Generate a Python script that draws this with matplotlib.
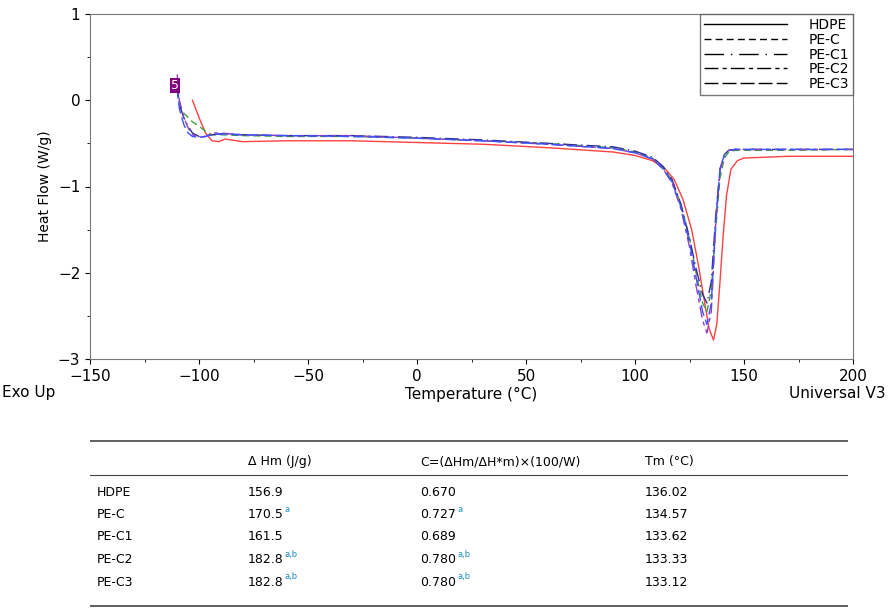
import matplotlib
matplotlib.use('Agg')
import matplotlib.pyplot as plt

# DSC curves (temperature in C, heat flow in W/g)
t_hdpe = [-103, -100, -97, -94, -91, -88, -80, -60, -30, 0, 30, 60, 90, 100, 108, 114, 118, 122, 126, 129, 132, 134, 136, 137.5, 139, 140.5, 142, 144, 147, 150, 170, 200]
hf_hdpe = [0.0, -0.2, -0.38, -0.47, -0.48, -0.45, -0.48, -0.47, -0.47, -0.49, -0.51, -0.55, -0.6, -0.64, -0.7, -0.8, -0.92, -1.15, -1.5, -1.9, -2.35, -2.65, -2.78, -2.6, -2.1, -1.55, -1.1, -0.8, -0.7, -0.67, -0.65, -0.65]

t_ref = [-110, -109, -107, -105, -103, -100, -97, -94, -90, -80, -60, -30, 0, 30, 60, 90, 100, 108, 113, 117, 121, 125, 128, 131, 133, 135, 137, 139, 141, 143, 146, 150, 170, 200]
hf_pec = [0.1, -0.05, -0.15, -0.2, -0.25, -0.3, -0.36, -0.4, -0.4, -0.41, -0.42, -0.42, -0.44, -0.47, -0.5, -0.55, -0.6, -0.67, -0.78, -0.93, -1.2, -1.6, -2.0, -2.35, -2.45, -2.2, -1.5, -0.9, -0.67, -0.6, -0.58, -0.58, -0.58, -0.57]
hf_pec1 = [0.2, -0.05, -0.2, -0.3, -0.38, -0.42, -0.42, -0.4, -0.39, -0.4, -0.41, -0.41, -0.43, -0.46, -0.5, -0.54, -0.59, -0.66, -0.77, -0.92, -1.2, -1.6, -1.95, -2.25, -2.35, -2.1, -1.35, -0.8, -0.63, -0.58, -0.57, -0.57, -0.57, -0.57]
hf_pec2 = [0.3, 0.0, -0.2, -0.32, -0.4, -0.43, -0.42, -0.38, -0.38, -0.4, -0.41, -0.41, -0.44, -0.47, -0.51, -0.56, -0.61, -0.68, -0.8, -0.96, -1.25, -1.7, -2.15, -2.55, -2.7, -2.45, -1.45, -0.8, -0.63, -0.58, -0.57, -0.57, -0.57, -0.57]
hf_pec3 = [0.15, -0.1, -0.28, -0.38, -0.42, -0.43, -0.42, -0.4, -0.39, -0.4, -0.41, -0.42, -0.44, -0.47, -0.51, -0.56, -0.61, -0.68, -0.8, -0.95, -1.23, -1.65, -2.05, -2.45, -2.6, -2.35, -1.4, -0.8, -0.63, -0.58, -0.57, -0.57, -0.57, -0.57]

samples = ['HDPE', 'PE-C', 'PE-C1', 'PE-C2', 'PE-C3']
dhm = ['156.9', '170.5', '161.5', '182.8', '182.8']
cryst = ['0.670', '0.727', '0.689', '0.780', '0.780']
tm = ['136.02', '134.57', '133.62', '133.33', '133.12']
marks = ['', 'a', '', 'a,b', 'a,b']

fig = plt.figure(figsize=(8.88, 6.11), dpi=100)
ax = fig.add_axes([90/888, 1-359/611, 763/888, 345/611])

ax.plot(t_hdpe, hf_hdpe, color='#ff4040', lw=1, ls='-')
ax.plot(t_ref, hf_pec, color='#40a040', lw=1, ls=(0, (5, 3)))
ax.plot(t_ref, hf_pec1, color='#303090', lw=1, ls=(0, (10, 3, 1, 3)))
ax.plot(t_ref, hf_pec2, color='#9040c0', lw=1, ls=(0, (8, 3, 3, 3)))
ax.plot(t_ref, hf_pec3, color='#4050ff', lw=1, ls=(0, (8, 3)))

ax.set_xlim(-150, 200)
ax.set_ylim(-3, 1)
ax.set_xticks([-150, -100, -50, 0, 50, 100, 150, 200])
ax.set_xticks(range(-125, 200, 50), minor=True)
ax.set_yticks([-3, -2, -1, 0, 1])
ax.set_yticks([-2.5, -1.5, -0.5, 0.5], minor=True)
ax.tick_params(labelsize=11, direction='out')
for s in ax.spines.values():
    s.set_color('#777777')
ax.set_ylabel('Heat Flow (W/g)', fontsize=10)
ax.set_xlabel('Temperature (°C)', fontsize=11, labelpad=2)
fig.text(2/888, 1-393/611, 'Exo Up', fontsize=11, va='center')
fig.text(886/888, 1-393/611, 'Universal V3', fontsize=11, va='center', ha='right')
ax.text(-111, 0.17, '5', color='white', fontsize=9, ha='center', va='center',
        bbox=dict(boxstyle='square,pad=0.1', fc='#800080', ec='none'))

# legend box
styles = ['-', (0, (5, 3)), (0, (14, 5, 1, 5)), (0, (10, 3, 3, 3)), (0, (10, 3))]
handles = [plt.Line2D([], [], color='k', lw=1, ls=st) for st in styles]
leg = ax.legend(handles, samples, loc='upper right', bbox_to_anchor=(1.0, 1.0),
                fontsize=10, frameon=True, fancybox=False, handlelength=6,
                handletextpad=1.5, labelspacing=0.05, borderpad=0.3, borderaxespad=0)
leg.get_frame().set_edgecolor('#555555')

# table
tab = fig.add_axes([90/888, 0, 758/888, 1])
tab.set_xlim(0, 758)
tab.set_ylim(611, 0)
tab.axis('off')
for y, lw in [(441, 1.2), (475, 0.8), (606, 1.2)]:
    tab.plot([0, 758], [y, y], color='#444444', lw=lw)
hx = [158, 330, 555]
tab.text(hx[0], 462, 'Δ Hm (J/g)', fontsize=9, va='center')
tab.text(hx[1], 462, 'C=(ΔHm/ΔH*m)×(100/W)', fontsize=9, va='center')
tab.text(hx[2], 462, 'Tm (°C)', fontsize=9, va='center')
for i in range(5):
    y = 492 + i * 22.5
    tab.text(7, y, samples[i], fontsize=9, va='center')
    t1 = tab.text(hx[0], y, dhm[i], fontsize=9, va='center')
    tab.text(hx[1], y, cryst[i], fontsize=9, va='center')
    tab.text(hx[2], y, tm[i], fontsize=9, va='center')
    if marks[i]:
        tab.text(hx[0] + 36, y - 5, marks[i], fontsize=6, color='#1a8fc0', va='center')
        tab.text(hx[1] + 37, y - 5, marks[i], fontsize=6, color='#1a8fc0', va='center')

fig.savefig('out.png', dpi=100)
